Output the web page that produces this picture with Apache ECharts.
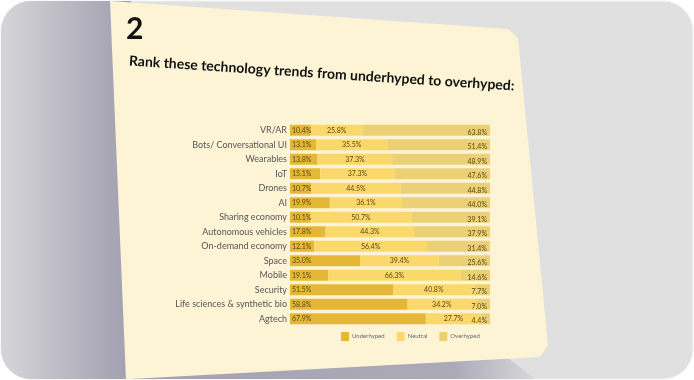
<!DOCTYPE html>
<html><head><meta charset="utf-8">
<script src="https://cdn.jsdelivr.net/npm/echarts@6/dist/echarts.min.js"></script>
<style>html,body{margin:0;padding:0;background:#fff}#c{width:694px;height:380px}</style>
</head><body><div id="c"></div>
<script>
var categories = ["VR/AR","Bots/ Conversational UI","Wearables","IoT","Drones","AI","Sharing economy","Autonomous vehicles","On-demand economy","Space","Mobile","Security","Life sciences & synthetic bio","Agtech"];
var underhyped = [10.4,13.1,13.8,15.1,10.7,19.9,10.1,17.8,12.1,35.0,19.1,51.5,58.8,67.9];
var neutral    = [25.8,35.5,37.3,37.3,44.5,36.1,50.7,44.3,56.4,39.4,66.3,40.8,34.2,27.7];
var overhyped  = [63.8,51.4,48.9,47.6,44.8,44.0,39.1,37.9,31.4,25.6,14.6,7.7,7.0,4.4];
var seriesNames = ["Underhyped","Neutral","Overhyped"];
var titleNum = "2";
var subtitle = "Rank these technology trends from underhyped to overhyped:";

var chart = echarts.init(document.getElementById('c'));
var font = "Lato, 'Open Sans', sans-serif";
function lbl(pos, off){
  return {show:true, position:pos, offset:off||[0,0], fontSize:7, color:'#5b4a12', fontFamily:font,
    formatter:function(p){return p.value.toFixed(1)+'%';}};
}
chart.setOption({
  animation:false,
  backgroundColor:'#ffffff',
  graphic:[
    {type:'rect', z:-10, shape:{x:1,y:1,width:692,height:378,r:30},
      style:{fill:'#e0e0e0', stroke:'#f2f2f2', lineWidth:1}},
    {type:'rect', z:-9, shape:{x:1,y:1,width:130,height:378,r:[30,0,0,30]},
      style:{fill:new echarts.graphic.LinearGradient(0,0,1,0,[{offset:0,color:'#d6d6d9'},{offset:0.85,color:'#a8a6b5'},{offset:1,color:'#a4a2b2'}])}},
    {type:'polygon', z:-9, shape:{points:[[128,356],[505,356],[535,379],[128,379]]},
      style:{fill:new echarts.graphic.LinearGradient(0,0,1,0,[{offset:0,color:'#a4a2b2'},{offset:0.8,color:'#acaab8'},{offset:1,color:'#d8d8db'}])}},
    {type:'polygon', z:-8, shape:{points:[[110,1],[508,29],[518,38],[548,345],[540,357],[130,379],[126,380]]},
      style:{fill:'#fdf4d6'}},
    {type:'text', z:10, x:126, y:29, style:{text:titleNum, font:"bold 30px "+font, fill:'#111', textVerticalAlign:'middle'}},
    {type:'text', z:10, x:129, y:61, rotation:-0.065, originX:0, originY:0,
      style:{text:subtitle, font:"bold 14px "+font, fill:'#111', textVerticalAlign:'middle'}}
  ],
  grid:{left:290, top:123, width:200, height:203, containLabel:false},
  xAxis:{type:'value', min:0, max:100, show:false},
  yAxis:{type:'category', data:categories, inverse:true,
    axisLine:{show:false}, axisTick:{show:false},
    axisLabel:{fontSize:9, color:'#555', fontFamily:font, margin:3}},
  legend:{data:seriesNames, top:327, left:336, itemWidth:8, itemHeight:9, itemGap:12, icon:'rect',
    textStyle:{fontSize:6, color:'#666', fontFamily:font, padding:[0,0,0,-2]}},
  series:[
    {name:seriesNames[0], type:'bar', stack:'a', data:underhyped, barWidth:11, itemStyle:{color:'#e4b836'}, label:lbl('insideLeft',[-3,0])},
    {name:seriesNames[1], type:'bar', stack:'a', data:neutral, barWidth:11, itemStyle:{color:'#fbd86c'}, label:lbl('inside',[0,0])},
    {name:seriesNames[2], type:'bar', stack:'a', data:overhyped, barWidth:11, itemStyle:{color:'#ebd075'}, label:lbl('insideRight',[2,2])}
  ]
});
</script></body></html>
